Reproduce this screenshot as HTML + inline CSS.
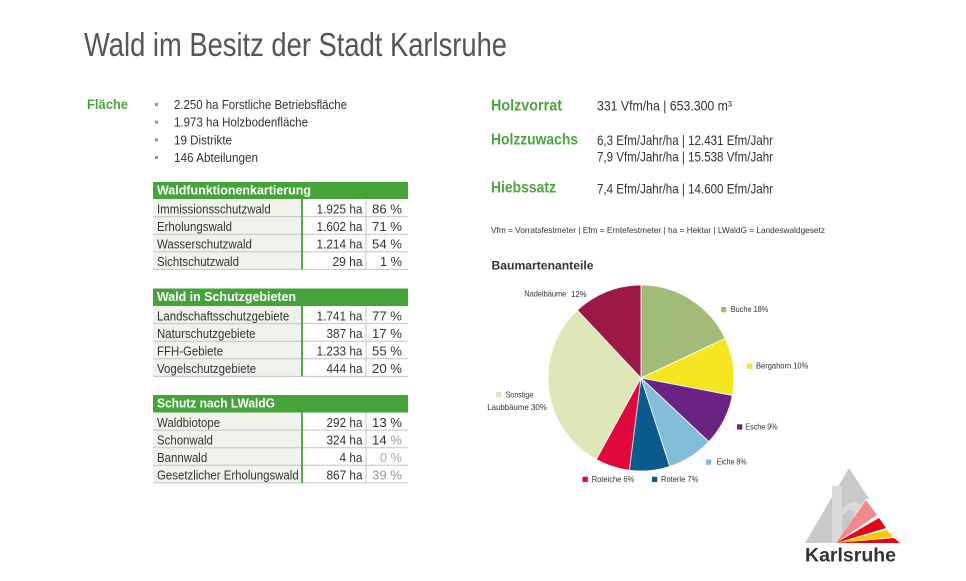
<!DOCTYPE html>
<html>
<head>
<meta charset="utf-8">
<style>
html,body{margin:0;padding:0;background:#fff;}
svg{display:block;}
text{font-family:"Liberation Sans",sans-serif;}
</style>
</head>
<body>
<svg width="966" height="581" viewBox="0 0 966 581" xmlns="http://www.w3.org/2000/svg">
<rect width="966" height="581" fill="#ffffff"/>

<!-- Title -->
<text x="84" y="56" font-size="33" fill="#555" textLength="423" lengthAdjust="spacingAndGlyphs">Wald im Besitz der Stadt Karlsruhe</text>

<!-- Fläche -->
<text x="87" y="109" font-size="14" font-weight="bold" fill="#4aa53f" textLength="41" lengthAdjust="spacingAndGlyphs">Fläche</text>
<g fill="#6cb65f">
<rect x="155" y="103" width="3" height="3"/>
<rect x="155" y="120.7" width="3" height="3"/>
<rect x="155" y="138.3" width="3" height="3"/>
<rect x="155" y="156" width="3" height="3"/>
</g>
<g font-size="13" fill="#333">
<text x="174" y="109" textLength="173" lengthAdjust="spacingAndGlyphs">2.250 ha Forstliche Betriebsfläche</text>
<text x="174" y="126.7" textLength="134" lengthAdjust="spacingAndGlyphs">1.973 ha Holzbodenfläche</text>
<text x="174" y="144.3" textLength="58" lengthAdjust="spacingAndGlyphs">19 Distrikte</text>
<text x="174" y="162" textLength="84" lengthAdjust="spacingAndGlyphs">146 Abteilungen</text>
</g>

<!-- Table 1 -->
<g>
<rect x="153" y="182" width="255" height="17" fill="#45a33a"/>
<rect x="153" y="199" width="149" height="70.4" fill="#eff3ec"/>
<g stroke="#c4c4c4" stroke-width="1">
<line x1="153" y1="216.6" x2="408" y2="216.6"/>
<line x1="153" y1="234.2" x2="408" y2="234.2"/>
<line x1="153" y1="251.8" x2="408" y2="251.8"/>
<line x1="153" y1="269.4" x2="408" y2="269.4"/>
<line x1="366" y1="199" x2="366" y2="269.4"/>
</g>
<rect x="301" y="199" width="2" height="70.4" fill="#5aa84d"/>
<text x="157" y="194.5" font-size="13" font-weight="bold" fill="#fff" textLength="154" lengthAdjust="spacingAndGlyphs">Waldfunktionenkartierung</text>
<g font-size="13" fill="#333" transform="translate(157,0) scale(0.88,1)">
<text x="0" y="213.3">Immissionsschutzwald</text>
<text x="0" y="230.9">Erholungswald</text>
<text x="0" y="248.5">Wasserschutzwald</text>
<text x="0" y="266.1">Sichtschutzwald</text>
</g>
<g font-size="13" fill="#333">
<text x="362.5" y="213.3" text-anchor="end" textLength="46" lengthAdjust="spacingAndGlyphs">1.925 ha</text>
<text x="362.5" y="230.9" text-anchor="end" textLength="46" lengthAdjust="spacingAndGlyphs">1.602 ha</text>
<text x="362.5" y="248.5" text-anchor="end" textLength="46" lengthAdjust="spacingAndGlyphs">1.214 ha</text>
<text x="362.5" y="266.1" text-anchor="end" textLength="30" lengthAdjust="spacingAndGlyphs">29 ha</text>
<text x="402" y="213.3" text-anchor="end" textLength="30" lengthAdjust="spacingAndGlyphs">86 %</text>
<text x="402" y="230.9" text-anchor="end" textLength="30" lengthAdjust="spacingAndGlyphs">71 %</text>
<text x="402" y="248.5" text-anchor="end" textLength="30" lengthAdjust="spacingAndGlyphs">54 %</text>
<text x="402" y="266.1" text-anchor="end" textLength="22" lengthAdjust="spacingAndGlyphs">1 %</text>
</g>
</g>

<!-- Table 2 -->
<g>
<rect x="153" y="288.5" width="255" height="17.5" fill="#45a33a"/>
<rect x="153" y="306" width="149" height="70.4" fill="#eff3ec"/>
<g stroke="#c4c4c4" stroke-width="1">
<line x1="153" y1="323.6" x2="408" y2="323.6"/>
<line x1="153" y1="341.2" x2="408" y2="341.2"/>
<line x1="153" y1="358.8" x2="408" y2="358.8"/>
<line x1="153" y1="376.4" x2="408" y2="376.4"/>
<line x1="366" y1="306" x2="366" y2="376.4"/>
</g>
<rect x="301" y="306" width="2" height="70.4" fill="#5aa84d"/>
<text x="157" y="301" font-size="13" font-weight="bold" fill="#fff" textLength="139" lengthAdjust="spacingAndGlyphs">Wald in Schutzgebieten</text>
<g font-size="13" fill="#333" transform="translate(157,0) scale(0.88,1)">
<text x="0" y="320.3">Landschaftsschutzgebiete</text>
<text x="0" y="337.9">Naturschutzgebiete</text>
<text x="0" y="355.5">FFH-Gebiete</text>
<text x="0" y="373.1">Vogelschutzgebiete</text>
</g>
<g font-size="13" fill="#333">
<text x="362.5" y="320.3" text-anchor="end" textLength="46" lengthAdjust="spacingAndGlyphs">1.741 ha</text>
<text x="362.5" y="337.9" text-anchor="end" textLength="36" lengthAdjust="spacingAndGlyphs">387 ha</text>
<text x="362.5" y="355.5" text-anchor="end" textLength="46" lengthAdjust="spacingAndGlyphs">1.233 ha</text>
<text x="362.5" y="373.1" text-anchor="end" textLength="36" lengthAdjust="spacingAndGlyphs">444 ha</text>
<text x="402" y="320.3" text-anchor="end" textLength="30" lengthAdjust="spacingAndGlyphs">77 %</text>
<text x="402" y="337.9" text-anchor="end" textLength="30" lengthAdjust="spacingAndGlyphs">17 %</text>
<text x="402" y="355.5" text-anchor="end" textLength="30" lengthAdjust="spacingAndGlyphs">55 %</text>
<text x="402" y="373.1" text-anchor="end" textLength="30" lengthAdjust="spacingAndGlyphs">20 %</text>
</g>
</g>

<!-- Table 3 -->
<g>
<rect x="153" y="395" width="255" height="17.5" fill="#45a33a"/>
<rect x="153" y="412.5" width="149" height="70.4" fill="#eff3ec"/>
<g stroke="#c4c4c4" stroke-width="1">
<line x1="153" y1="430.1" x2="408" y2="430.1"/>
<line x1="153" y1="447.7" x2="408" y2="447.7"/>
<line x1="153" y1="465.3" x2="408" y2="465.3"/>
<line x1="153" y1="482.9" x2="408" y2="482.9"/>
<line x1="366" y1="412.5" x2="366" y2="482.9"/>
</g>
<rect x="301" y="412.5" width="2" height="70.4" fill="#5aa84d"/>
<text x="157" y="407.5" font-size="13" font-weight="bold" fill="#fff" textLength="118" lengthAdjust="spacingAndGlyphs">Schutz nach LWaldG</text>
<g font-size="13" fill="#333" transform="translate(157,0) scale(0.88,1)">
<text x="0" y="426.8">Waldbiotope</text>
<text x="0" y="444.4">Schonwald</text>
<text x="0" y="462">Bannwald</text>
<text x="0" y="479.6">Gesetzlicher Erholungswald</text>
</g>
<g font-size="13" fill="#333">
<text x="362.5" y="426.8" text-anchor="end" textLength="36" lengthAdjust="spacingAndGlyphs">292 ha</text>
<text x="362.5" y="444.4" text-anchor="end" textLength="36" lengthAdjust="spacingAndGlyphs">324 ha</text>
<text x="362.5" y="462" text-anchor="end" textLength="23" lengthAdjust="spacingAndGlyphs">4 ha</text>
<text x="362.5" y="479.6" text-anchor="end" textLength="36" lengthAdjust="spacingAndGlyphs">867 ha</text>
<text x="402" y="426.8" text-anchor="end" textLength="30" lengthAdjust="spacingAndGlyphs">13 %</text>
<text x="402" y="444.4" text-anchor="end" textLength="30" lengthAdjust="spacingAndGlyphs">14 <tspan fill="#999">%</tspan></text>
<text x="402" y="462" text-anchor="end" textLength="22" lengthAdjust="spacingAndGlyphs" fill="#aaa">0 %</text>
<text x="402" y="479.6" text-anchor="end" textLength="30" lengthAdjust="spacingAndGlyphs" fill="#999">39 %</text>
</g>
</g>

<!-- Right side key figures -->
<g font-size="16" font-weight="bold" fill="#4aa53f">
<text x="491" y="110.7" textLength="71" lengthAdjust="spacingAndGlyphs">Holzvorrat</text>
<text x="491" y="144.3" textLength="87" lengthAdjust="spacingAndGlyphs">Holzzuwachs</text>
<text x="491" y="192.3" textLength="65" lengthAdjust="spacingAndGlyphs">Hiebssatz</text>
</g>
<g font-size="14" fill="#333">
<text x="597" y="110.7" textLength="135" lengthAdjust="spacingAndGlyphs">331  Vfm/ha | 653.300 m³</text>
<text x="597" y="145" textLength="176" lengthAdjust="spacingAndGlyphs">6,3 Efm/Jahr/ha | 12.431 Efm/Jahr</text>
<text x="597" y="161.7" textLength="176" lengthAdjust="spacingAndGlyphs">7,9 Vfm/Jahr/ha | 15.538 Vfm/Jahr</text>
<text x="597" y="193.3" textLength="176" lengthAdjust="spacingAndGlyphs">7,4 Efm/Jahr/ha | 14.600 Efm/Jahr</text>
</g>
<text x="491" y="233" font-size="8.5" fill="#333" textLength="334" lengthAdjust="spacingAndGlyphs">Vfm = Vorratsfestmeter | Efm = Erntefestmeter | ha = Hektar | LWaldG = Landeswaldgesetz</text>

<text x="491.5" y="269.3" font-size="12" font-weight="bold" fill="#333" textLength="102" lengthAdjust="spacingAndGlyphs">Baumartenanteile</text>

<!-- Pie -->
<g stroke="#fff" stroke-width="0.8">
<path d="M641,378 L641,285 A93,93 0 0,1 725.15,338.40 Z" fill="#a2bb79"/>
<path d="M641,378 L725.15,338.40 A93,93 0 0,1 732.35,395.43 Z" fill="#f6e622"/>
<path d="M641,378 L732.35,395.43 A93,93 0 0,1 708.80,441.66 Z" fill="#6a2383"/>
<path d="M641,378 L708.80,441.66 A93,93 0 0,1 669.74,466.45 Z" fill="#84bdd9"/>
<path d="M641,378 L669.74,466.45 A93,93 0 0,1 629.35,470.27 Z" fill="#0b5a8e"/>
<path d="M641,378 L629.35,470.27 A93,93 0 0,1 596.19,459.50 Z" fill="#e2073a"/>
<path d="M641,378 L596.19,459.50 A93,93 0 0,1 577.34,310.20 Z" fill="#dfe6b8"/>
<path d="M641,378 L577.34,310.20 A93,93 0 0,1 641,285 Z" fill="#9c1847"/>
</g>

<!-- Pie legend -->
<g>
<rect x="721" y="307" width="5.3" height="5.3" fill="#a2bb79"/>
<rect x="747" y="363.5" width="5.3" height="5.3" fill="#f6e622"/>
<rect x="737" y="424.3" width="5.3" height="5.3" fill="#6a2383"/>
<rect x="706" y="459.5" width="5.3" height="5.3" fill="#84bdd9"/>
<rect x="652" y="476.7" width="5.3" height="5.3" fill="#0b5a8e"/>
<rect x="582.5" y="476.7" width="5.3" height="5.3" fill="#e2073a"/>
<rect x="496" y="392" width="5.3" height="5.3" fill="#dfe6b8"/>
</g>
<g font-size="8.5" fill="#333">
<text x="524.3" y="296.5" textLength="42" lengthAdjust="spacingAndGlyphs">Nadelbäume</text>
<text x="571" y="297" textLength="15.7" lengthAdjust="spacingAndGlyphs">12%</text>
<text x="730.7" y="312" textLength="37.6" lengthAdjust="spacingAndGlyphs">Buche 18%</text>
<text x="756" y="368.7" textLength="52.3" lengthAdjust="spacingAndGlyphs">Bergahorn 10%</text>
<text x="745.3" y="429.3" textLength="32.4" lengthAdjust="spacingAndGlyphs">Esche 9%</text>
<text x="716.7" y="464.7" textLength="30" lengthAdjust="spacingAndGlyphs">Eiche 8%</text>
<text x="661" y="482" textLength="37.3" lengthAdjust="spacingAndGlyphs">Roterle 7%</text>
<text x="591.7" y="482" textLength="42.6" lengthAdjust="spacingAndGlyphs">Roteiche 6%</text>
<text x="505.7" y="397.3" textLength="27.6" lengthAdjust="spacingAndGlyphs">Sonstige</text>
<text x="487.3" y="410" textLength="59.4" lengthAdjust="spacingAndGlyphs">Laubbäume 30%</text>
</g>

<!-- Logo -->
<g>
<polygon points="849,468 805,543 898,543" fill="#c9c9c9"/>
<rect x="832" y="486" width="10" height="57" fill="#dadada"/>
<path d="M842,510 Q852,496 862,506 L862,543 L854,543 L854,512 Q850,506 842,516 Z" fill="#dadada"/>
<polygon points="836,543 866,499 900,499 900,543" fill="#fff"/>
<polygon points="836,543 866,500 877,515" fill="#f08a8c"/>
<polygon points="836,543 879,518 886,528" fill="#e30613"/>
<polygon points="836,543 887,530 893,537" fill="#fbc900"/>
<polygon points="836,543 894,538 900,543" fill="#e30613"/>
</g>
<text x="805" y="561.7" font-size="19.5" font-weight="bold" fill="#333" textLength="91" lengthAdjust="spacingAndGlyphs">Karlsruhe</text>
</svg>
</body>
</html>
